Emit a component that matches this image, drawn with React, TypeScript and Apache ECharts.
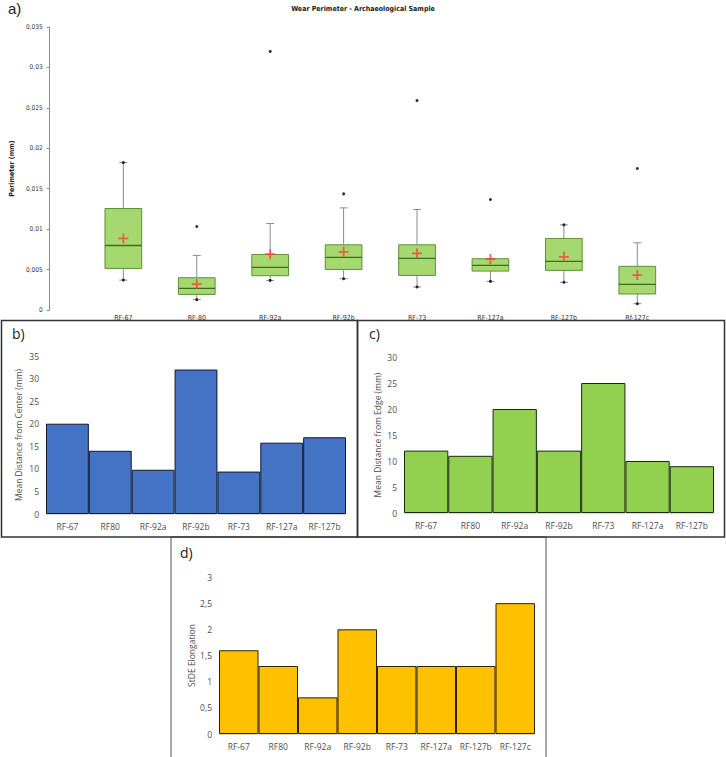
import React, { useEffect, useRef } from "react";
import * as echarts from "echarts";

// Panel a) Wear Perimeter box plots
const categoriesA = ["RF-67", "RF-80", "RF-92a", "RF-92b", "RF-73", "RF-127a", "RF-127b", "Rf-127c"];
const minsA = [0.0037, 0.00128, 0.00366, 0.00387, 0.00284, 0.00354, 0.00342, 0.00078];
const q1A = [0.00514, 0.00193, 0.00424, 0.00502, 0.00428, 0.00481, 0.0049, 0.00198];
const medianA = [0.00798, 0.00268, 0.00527, 0.0065, 0.00638, 0.00551, 0.00601, 0.00317];
const q3A = [0.01255, 0.00399, 0.00687, 0.00806, 0.00806, 0.00634, 0.00885, 0.0054];
const upperWhiskerA = [0.01823, 0.00675, 0.0107, 0.01263, 0.01243, 0.00634, 0.01053, 0.00831];
const maxsA = [0.01823, 0.01033, 0.03198, 0.01436, 0.0259, 0.01366, 0.01053, 0.0175];
const meansA = [0.00885, 0.00321, 0.0069, 0.0072, 0.007, 0.0063, 0.00658, 0.00432];

// Panel b) Mean distance from center
const categoriesB = ["RF-67", "RF80", "RF-92a", "RF-92b", "RF-73", "RF-127a", "RF-127b"];
const distCenter = [20, 14, 9.8, 32, 9.4, 15.8, 17];

// Panel c) Mean distance from edge
const categoriesC = ["RF-67", "RF80", "RF-92a", "RF-92b", "RF-73", "RF-127a", "RF-127b"];
const distEdge = [12, 11, 20, 12, 25, 10, 9];

// Panel d) StDE elongation
const categoriesD = ["RF-67", "RF80", "RF-92a", "RF-92b", "RF-73", "RF-127a", "RF-127b", "RF-127c"];
const stdeElong = [1.6, 1.3, 0.7, 2, 1.3, 1.3, 1.3, 2.5];

const NARROW = "'Liberation Sans Narrow', 'DejaVu Sans Condensed', 'Arial Narrow', sans-serif";
const CAL = "'Open Sans', 'Noto Sans', sans-serif";
const comma = (v: number) => (v === 0 ? "0" : String(parseFloat(v.toFixed(3))).replace(".", ","));

export default function App() {
  const ref = useRef<HTMLDivElement>(null);
  useEffect(() => {
    if (!ref.current) return;
    const chart = echarts.init(ref.current, null, { renderer: "svg" });

    const boxData = categoriesA.map((_, i) => [i, minsA[i], q1A[i], medianA[i], q3A[i], upperWhiskerA[i]]);
    const dotData: number[][] = [];
    categoriesA.forEach((_, i) => {
      dotData.push([i, minsA[i]]);
      dotData.push([i, maxsA[i]]);
    });
    const meanData = categoriesA.map((_, i) => [i, meansA[i]]);

    const barAxisLabel = { fontSize: 8.5, color: "#4d4d4d", fontFamily: CAL };
    const barYName = (name: string, gap: number) => ({
      name,
      nameLocation: "middle",
      nameGap: gap,
      nameRotate: 90,
      nameTextStyle: { fontSize: 8.5, color: "#4d4d4d", fontFamily: CAL },
    });
    const barXAxis = (gridIndex: number, data: string[]) => ({
      type: "category",
      gridIndex,
      data,
      axisLine: { lineStyle: { color: "#d9d9d9" } },
      axisTick: { show: false },
      axisLabel: { ...barAxisLabel, margin: 8, interval: 0, hideOverlap: false },
    });

    chart.setOption({
      animation: false,
      backgroundColor: "#ffffff",
      grid: [
        { left: 84, top: 27, width: 590, height: 283 },
        { left: 46, top: 356, width: 300, height: 158 },
        { left: 404, top: 357, width: 310, height: 156 },
        { left: 219, top: 577, width: 316, height: 157 },
      ],
      xAxis: [
        {
          type: "category",
          gridIndex: 0,
          data: categoriesA,
          axisLine: { show: false },
          axisTick: { show: false },
          axisLabel: { fontSize: 7, color: "#333333", fontFamily: NARROW, margin: 4, interval: 0 },
        },
        barXAxis(1, categoriesB),
        barXAxis(2, categoriesC),
        barXAxis(3, categoriesD),
      ],
      yAxis: [
        {
          type: "value",
          gridIndex: 0,
          min: 0,
          max: 0.035,
          interval: 0.005,
          offset: 37,
          axisLine: { show: true, lineStyle: { color: "#8c8c8c" } },
          axisTick: { show: true, length: 3, lineStyle: { color: "#8c8c8c" } },
          splitLine: { show: false },
          axisLabel: { fontSize: 6.5, color: "#333333", fontFamily: NARROW, margin: 7, formatter: comma },
          name: "Perimeter (mm)",
          nameLocation: "middle",
          nameGap: 20,
          nameRotate: 90,
          nameTextStyle: { fontSize: 7, fontWeight: "bold", color: "#1a1a1a", fontFamily: NARROW },
        },
        {
          type: "value",
          gridIndex: 1,
          min: 0,
          max: 35,
          interval: 5,
          axisLine: { show: false },
          axisTick: { show: false },
          splitLine: { show: false },
          axisLabel: { ...barAxisLabel, margin: 7 },
          ...barYName("Mean Distance from Center (mm)", 23),
        },
        {
          type: "value",
          gridIndex: 2,
          min: 0,
          max: 30,
          interval: 5,
          axisLine: { show: false },
          axisTick: { show: false },
          splitLine: { show: false },
          axisLabel: { ...barAxisLabel, margin: 7 },
          ...barYName("Mean Distance from Edge (mm)", 22),
        },
        {
          type: "value",
          gridIndex: 3,
          min: 0,
          max: 3,
          interval: 0.5,
          axisLine: { show: false },
          axisTick: { show: false },
          splitLine: { show: false },
          axisLabel: { ...barAxisLabel, margin: 7, formatter: (v: number) => String(v).replace(".", ",") },
          ...barYName("StDE Elongation", 23),
        },
      ],
      series: [
        {
          type: "custom",
          xAxisIndex: 0,
          yAxisIndex: 0,
          data: boxData,
          renderItem: (params: any, api: any) => {
            const idx = api.value(0);
            const pMin = api.coord([idx, api.value(1)]);
            const pQ1 = api.coord([idx, api.value(2)]);
            const pMed = api.coord([idx, api.value(3)]);
            const pQ3 = api.coord([idx, api.value(4)]);
            const pUp = api.coord([idx, api.value(5)]);
            const band = api.size([1, 0])[0];
            const hw = band * 0.25;
            const cw = 4;
            const x = pMed[0];
            const grey = { stroke: "#8c8c8c", lineWidth: 1 };
            return {
              type: "group",
              children: [
                { type: "line", shape: { x1: x, y1: pUp[1], x2: x, y2: pQ3[1] }, style: grey },
                { type: "line", shape: { x1: x, y1: pQ1[1], x2: x, y2: pMin[1] }, style: grey },
                { type: "line", shape: { x1: x - cw, y1: pUp[1], x2: x + cw, y2: pUp[1] }, style: grey },
                { type: "line", shape: { x1: x - cw, y1: pMin[1], x2: x + cw, y2: pMin[1] }, style: grey },
                {
                  type: "rect",
                  shape: { x: x - hw, y: pQ3[1], width: hw * 2, height: pQ1[1] - pQ3[1] },
                  style: { fill: "#a6d870", stroke: "#5f8f3a", lineWidth: 1 },
                },
                {
                  type: "line",
                  shape: { x1: x - hw, y1: pMed[1], x2: x + hw, y2: pMed[1] },
                  style: { stroke: "#3d6b22", lineWidth: 1.3 },
                },
              ],
            };
          },
          z: 2,
        },
        {
          type: "scatter",
          xAxisIndex: 0,
          yAxisIndex: 0,
          data: dotData,
          symbol: "circle",
          symbolSize: 3,
          itemStyle: { color: "#000000" },
          z: 3,
        },
        {
          type: "scatter",
          xAxisIndex: 0,
          yAxisIndex: 0,
          data: meanData,
          symbol: "path://M-0.9,-5H0.9V-0.9H5V0.9H0.9V5H-0.9V0.9H-5V-0.9H-0.9Z",
          symbolSize: 10,
          symbolKeepAspect: true,
          itemStyle: { color: "#ff3b3b" },
          z: 4,
        },
        {
          type: "bar",
          xAxisIndex: 1,
          yAxisIndex: 1,
          data: distCenter,
          barWidth: "100%",
          barCategoryGap: "0%",
          itemStyle: { color: "#4472c4", borderColor: "#10182a", borderWidth: 1 },
        },
        {
          type: "bar",
          xAxisIndex: 2,
          yAxisIndex: 2,
          data: distEdge,
          barWidth: "100%",
          barCategoryGap: "0%",
          itemStyle: { color: "#92d050", borderColor: "#1a2a10", borderWidth: 1 },
        },
        {
          type: "bar",
          xAxisIndex: 3,
          yAxisIndex: 3,
          data: stdeElong,
          barWidth: "100%",
          barCategoryGap: "0%",
          itemStyle: { color: "#ffc000", borderColor: "#2a2000", borderWidth: 1 },
        },
      ],
      graphic: [
        {
          type: "rect",
          shape: { x: 171, y: 537, width: 375, height: 240 },
          style: { fill: "none", stroke: "#8a8a8a", lineWidth: 1.5 },
          silent: true,
          z: 0,
        },
        {
          type: "rect",
          shape: { x: 1.5, y: 320.5, width: 356, height: 216.5 },
          style: { fill: "none", stroke: "#333333", lineWidth: 1.5 },
          silent: true,
          z: 1,
        },
        {
          type: "rect",
          shape: { x: 357.5, y: 320.5, width: 367, height: 216.5 },
          style: { fill: "none", stroke: "#333333", lineWidth: 1.5 },
          silent: true,
          z: 1,
        },
        {
          type: "text",
          x: 363,
          y: 9,
          style: {
            text: "Wear Perimeter - Archaeological Sample",
            fontSize: 7,
            fontWeight: "bold",
            fontFamily: NARROW,
            fill: "#1a1a1a",
            align: "center",
            verticalAlign: "middle",
          },
        },
        {
          type: "text",
          x: 8,
          y: 1,
          style: { text: "a)", fontSize: 15, fontFamily: "'Liberation Sans', Arial, sans-serif", fill: "#222222" },
        },
        {
          type: "text",
          x: 12,
          y: 326,
          style: { text: "b)", fontSize: 14, fontFamily: CAL, fill: "#222222" },
        },
        {
          type: "text",
          x: 369,
          y: 326,
          style: { text: "c)", fontSize: 14, fontFamily: CAL, fill: "#222222" },
        },
        {
          type: "text",
          x: 180,
          y: 545,
          style: { text: "d)", fontSize: 14, fontFamily: CAL, fill: "#222222" },
        },
      ],
    });
    return () => chart.dispose();
  }, []);
  return (
    <div
      ref={ref}
      style={{ position: "fixed", left: 0, top: 0, width: 726, height: 757, background: "#fff" }}
    />
  );
}
